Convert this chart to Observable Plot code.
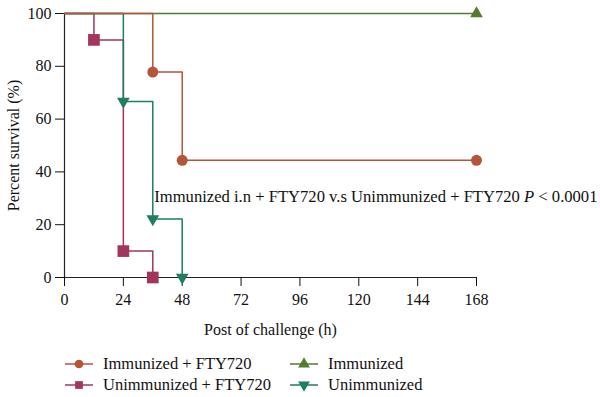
<!DOCTYPE html>
<html>
<head>
<meta charset="utf-8">
<script src="https://cdn.jsdelivr.net/npm/d3@7"></script>
<script src="https://cdn.jsdelivr.net/npm/@observablehq/plot@0.6"></script>
<style>
  body { margin: 0; background: #fff; font-family: "Liberation Serif", serif; }
  #wrap { position: relative; width: 600px; height: 397px; }
  #legend { position: absolute; left: 0; top: 0; width: 600px; height: 397px; pointer-events: none; }
  .item { position: absolute; display: flex; align-items: center; font-size: 16.5px; color: #111; white-space: nowrap; }
  .item svg { margin-right: 10px; }
</style>
</head>
<body>
<div id="wrap"><div id="chart"></div><div id="legend"></div></div>
<script>
// ---- data ----
const seriesNames = ["Immunized + FTY720", "Unimmunized + FTY720", "Immunized", "Unimmunized"];
const seriesColors = ["#b4553a", "#a3345e", "#527d2e", "#1f7d60"];
const seriesSymbols = ["circle", "square", "triangle", "triangleDown"];

const timesImmFTY = [0, 36, 48, 168];
const survImmFTY = [100, 77.8, 44.4, 44.4];
const timesUnimmFTY = [0, 12, 24, 36];
const survUnimmFTY = [100, 90, 10, 0];
const timesImm = [0, 168];
const survImm = [100, 100];
const timesUnimm = [0, 24, 36, 48];
const survUnimm = [100, 66.7, 22.2, 0];

const xTicks = [0, 24, 48, 72, 96, 120, 144, 168];
const yTicks = [0, 20, 40, 60, 80, 100];
const xLabel = "Post of challenge (h)";
const yLabel = "Percent survival (%)";
const noteText = "Immunized i.n + FTY720 v.s Unimmunized + FTY720 P < 0.0001";
const noteX = 36.6;
const noteY = 30.8;

// ---- build ----
const triangleDown = {
  draw(context, size) {
    const sqrt3 = Math.sqrt(3);
    const y = -Math.sqrt(size / (sqrt3 * 3));
    context.moveTo(0, -y * 2);
    context.lineTo(-sqrt3 * y, y);
    context.lineTo(sqrt3 * y, y);
    context.closePath();
  }
};
const symbolFor = s => s === "triangleDown" ? triangleDown : s;
const rFor = s => s === "circle" ? 5.5 : s === "square" ? 6.6 : 4.7;

function mk(times, surv, i) {
  return times.map((t, j) => ({t, s: surv[j], j, name: seriesNames[i]}));
}
const series = [
  mk(timesImmFTY, survImmFTY, 0),
  mk(timesUnimmFTY, survUnimmFTY, 1),
  mk(timesImm, survImm, 2),
  mk(timesUnimm, survUnimm, 3)
];
const drawOrder = [2, 1, 3, 0];

const marks = [
  Plot.ruleY([0], {x1: 0, x2: 168, stroke: "#222", strokeWidth: 1.2}),
  Plot.ruleX([0], {y1: 0, y2: 100, stroke: "#222", strokeWidth: 1.2}),
  Plot.axisX({ticks: xTicks, tickSize: 9, tickPadding: 7, fontSize: 16, label: xLabel, labelAnchor: "center", labelOffset: 57, labelArrow: false}),
  Plot.axisY({ticks: yTicks, tickSize: 9, tickPadding: 4, fontSize: 16, label: yLabel, labelAnchor: "center", labelOffset: 57, labelArrow: false})
];
for (const i of drawOrder) {
  marks.push(Plot.line(series[i], {x: "t", y: "s", stroke: seriesColors[i], strokeWidth: 1.5, curve: "step-after"}));
}
for (const i of drawOrder) {
  marks.push(Plot.dot(series[i].filter(d => d.j > 0), {x: "t", y: "s", fill: seriesColors[i], stroke: "none", symbol: symbolFor(seriesSymbols[i]), r: rFor(seriesSymbols[i])}));
}
marks.push(Plot.text([noteText], {x: noteX, y: noteY, text: d => d, textAnchor: "start", fontSize: 16.6, fill: "#111"}));

const chart = Plot.plot({
  width: 600,
  height: 340,
  marginLeft: 64,
  marginRight: 124,
  marginTop: 13,
  marginBottom: 63,
  x: {domain: [0, 168]},
  y: {domain: [0, 100]},
  style: {fontFamily: "'Liberation Serif', serif", fontSize: "16px", color: "#111", background: "white", overflow: "visible"},
  marks
});
document.getElementById("chart").appendChild(chart);

// italic P in annotation
chart.querySelectorAll("text").forEach(t => {
  if (t.textContent === noteText) {
    const parts = noteText.split(" P ");
    const target = t.querySelector("tspan") || t;
    target.textContent = "";
    const ns = "http://www.w3.org/2000/svg";
    const a = document.createElementNS(ns, "tspan"); a.textContent = parts[0] + " ";
    const b = document.createElementNS(ns, "tspan"); b.textContent = "P"; b.setAttribute("font-style", "italic");
    const c = document.createElementNS(ns, "tspan"); c.textContent = " " + parts[1];
    target.appendChild(a); target.appendChild(b); target.appendChild(c);
  }
});

// legend
const legendPos = [[65, 364], [65, 385], [290, 364], [290, 385]];
const legend = document.getElementById("legend");
seriesNames.forEach((name, i) => {
  const div = document.createElement("div");
  div.className = "item";
  div.style.left = legendPos[i][0] + "px";
  div.style.top = (legendPos[i][1] - 10) + "px";
  const sym = symbolFor(seriesSymbols[i]);
  const symObj = typeof sym === "string" ? {circle: d3.symbolCircle, square: d3.symbolSquare, triangle: d3.symbolTriangle}[sym] : sym;
  const path = d3.symbol(symObj, 60)();
  div.innerHTML = `<svg width="28" height="20" viewBox="0 0 28 20"><line x1="0" x2="28" y1="10" y2="10" stroke="${seriesColors[i]}" stroke-width="1.5"/><path d="${path}" transform="translate(14,10)" fill="${seriesColors[i]}"/></svg><span>${name}</span>`;
  legend.appendChild(div);
});
</script>
</body>
</html>
